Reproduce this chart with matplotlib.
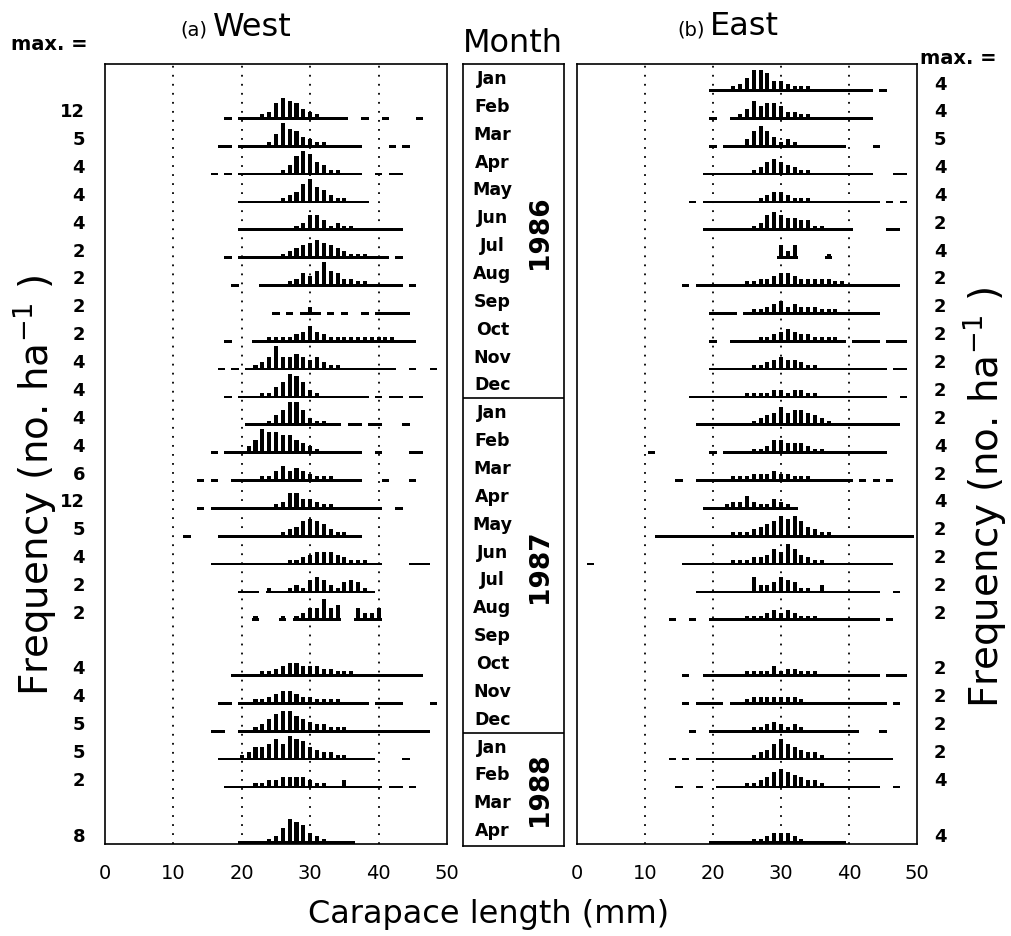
import matplotlib
matplotlib.use("Agg")
import matplotlib.pyplot as plt
from matplotlib.transforms import blended_transform_factory

plt.rcParams["font.family"] = ["DejaVu Sans"]
plt.rcParams["mathtext.default"] = "regular"

W, H = 1011, 937

# ---- data -----------------------------------------------------------------
months = ["Jan", "Feb", "Mar", "Apr", "May", "Jun", "Jul", "Aug", "Sep", "Oct", "Nov", "Dec",
          "Jan", "Feb", "Mar", "Apr", "May", "Jun", "Jul", "Aug", "Sep", "Oct", "Nov", "Dec",
          "Jan", "Feb", "Mar", "Apr"]
years = ["1986", "1987", "1988"]
year_first = [0, 12, 24]
year_last = [11, 23, 27]

# west: row index (0 = Jan 1986), scale max, first size class (mm), frequencies per 1-mm class
west_rows = [1, 2, 3, 4, 5, 6, 7, 8, 9, 10, 11, 12, 13, 14, 15, 16, 17, 18, 19,
             21, 22, 23, 24, 25, 27]
west_max = [12, 5, 4, 4, 4, 2, 2, 2, 2, 4, 4, 4, 4, 6, 12, 5, 4, 2, 2,
            4, 4, 5, 5, 2, 8]
west_start = [18, 17, 16, 20, 20, 18, 19, 25, 18, 17, 18, 21, 16, 14, 14, 12, 16, 20, 22,
              19, 17, 16, 17, 18, 20]
west_freq = [
    [1, 0, 1, 1, 1, 2, 3, 6, 8, 7, 6, 4, 3, 2, 1, 1, 1, 1, 0, 0, 1, 0, 0, 1, 0, 0, 0, 0, 1],
    [1, 1, 0, 1, 1, 1, 1, 2, 5, 9, 7, 6, 4, 3, 2, 2, 1, 1, 1, 1, 1, 0, 0, 0, 0, 1, 0, 1],
    [1, 0, 1, 0, 1, 1, 1, 1, 1, 1, 2, 4, 7, 9, 8, 5, 4, 2, 2, 1, 1, 1, 0, 0, 1, 0, 1, 1],
    [1, 1, 1, 1, 1, 1, 2, 3, 4, 7, 9, 6, 5, 3, 2, 2, 1, 1, 1],
    [1, 1, 1, 1, 1, 1, 1, 1, 2, 3, 6, 6, 4, 2, 3, 2, 2, 1, 1, 1, 1, 1, 1, 1],
    [1, 0, 1, 1, 1, 1, 1, 1, 2, 3, 4, 5, 6, 7, 6, 5, 4, 3, 2, 2, 2, 1, 1, 1, 0, 1],
    [1, 0, 0, 0, 1, 1, 1, 1, 2, 3, 5, 4, 6, 9, 6, 5, 3, 3, 2, 2, 1, 1, 1, 1, 1, 0, 1],
    [1, 0, 1, 0, 1, 3, 1, 0, 1, 0, 1, 0, 0, 1, 0, 1, 1, 1, 1, 1],
    [1, 0, 0, 0, 1, 1, 2, 2, 2, 2, 3, 4, 6, 4, 3, 2, 2, 2, 2, 2, 2, 2, 2, 2, 2, 1, 1, 1],
    [1, 0, 1, 0, 1, 2, 3, 5, 9, 5, 5, 6, 5, 4, 5, 3, 2, 2, 1, 1, 1, 1, 1, 1, 1, 1, 0, 0, 1, 0, 0, 1],
    [1, 0, 1, 1, 1, 2, 2, 4, 6, 9, 8, 6, 3, 2, 1, 1, 1, 1, 1, 1, 1, 0, 1, 0, 1, 1, 0, 1, 1],
    [1, 1, 1, 2, 4, 6, 9, 9, 6, 3, 2, 2, 1, 1, 0, 1, 1, 0, 1, 1, 0, 0, 0, 1],
    [1, 0, 1, 1, 1, 3, 5, 9, 8, 8, 7, 7, 5, 4, 3, 2, 1, 1, 1, 1, 1, 1, 0, 0, 1, 0, 0, 0, 0, 1, 1],
    [1, 0, 1, 0, 0, 1, 1, 1, 1, 2, 2, 4, 6, 4, 5, 4, 3, 2, 2, 2, 1, 1, 1, 1, 0, 0, 0, 1, 0, 0, 0, 1],
    [1, 0, 1, 1, 1, 1, 1, 1, 1, 1, 1, 2, 3, 6, 6, 4, 4, 3, 2, 2, 1, 1, 1, 1, 1, 1, 1, 0, 0, 1],
    [1, 0, 0, 0, 0, 1, 1, 1, 1, 1, 1, 1, 1, 1, 2, 3, 4, 6, 7, 6, 5, 3, 2, 2, 1, 1],
    [1, 1, 1, 1, 1, 1, 1, 1, 1, 1, 1, 2, 2, 3, 4, 5, 5, 5, 4, 3, 2, 2, 2, 1, 1, 0, 0, 0, 0, 1, 1, 1],
    [1, 1, 1, 0, 2, 1, 1, 2, 3, 2, 5, 6, 5, 3, 2, 4, 5, 4, 2, 1],
    [2, 0, 0, 0, 2, 0, 2, 3, 5, 5, 8, 5, 6, 0, 0, 5, 3, 3, 5],
    [1, 1, 1, 1, 2, 2, 3, 4, 5, 5, 4, 4, 4, 3, 3, 2, 2, 2, 1, 1, 1, 1, 1, 1, 1, 1, 1, 1],
    [1, 1, 0, 1, 1, 2, 2, 3, 4, 5, 5, 4, 3, 3, 2, 2, 2, 2, 1, 1, 1, 1, 0, 1, 1, 1, 1, 0, 0, 0, 0, 1],
    [1, 1, 0, 0, 1, 1, 2, 3, 5, 7, 8, 8, 6, 5, 4, 3, 3, 2, 2, 2, 1, 1, 1, 1, 1, 1, 1, 1, 1, 1, 1, 1],
    [1, 1, 1, 2, 3, 5, 5, 6, 8, 6, 9, 8, 7, 5, 4, 3, 3, 2, 2, 1, 1, 1, 1, 0, 0, 0, 0, 1],
    [1, 1, 1, 1, 2, 2, 3, 3, 4, 4, 4, 4, 3, 2, 2, 1, 1, 3, 1, 1, 1, 1, 1, 0, 1, 1, 0, 1],
    [1, 1, 1, 1, 2, 3, 6, 9, 8, 7, 4, 3, 2, 1, 1, 1, 1],
]

east_rows = [0, 1, 2, 3, 4, 5, 6, 7, 8, 9, 10, 11, 12, 13, 14, 15, 16, 17, 18, 19,
             21, 22, 23, 24, 25, 27]
east_max = [4, 4, 5, 4, 4, 2, 4, 2, 2, 2, 2, 2, 2, 4, 2, 4, 2, 2, 2, 2,
            2, 2, 2, 2, 4, 4]
east_start = [20, 20, 20, 19, 17, 19, 30, 16, 20, 20, 20, 17, 18, 11, 15, 19, 12, 2, 18, 14,
              16, 16, 17, 14, 15, 20]
east_freq = [
    [1, 1, 1, 2, 3, 5, 8, 8, 7, 4, 4, 3, 2, 2, 2, 1, 1, 1, 1, 1, 1, 1, 1, 1, 0, 1],
    [1, 0, 0, 1, 2, 4, 7, 5, 6, 6, 5, 3, 3, 2, 2, 1, 1, 1, 1, 1, 1, 1, 1, 1],
    [1, 0, 1, 1, 1, 3, 6, 8, 6, 4, 2, 3, 2, 1, 1, 1, 1, 1, 1, 1, 0, 0, 0, 0, 1],
    [1, 1, 1, 1, 1, 1, 1, 2, 3, 5, 6, 5, 4, 3, 2, 2, 1, 1, 1, 1, 1, 1, 1, 1, 1, 0, 0, 0, 1, 1],
    [1, 0, 1, 1, 1, 1, 1, 1, 1, 1, 2, 3, 4, 4, 3, 2, 2, 2, 1, 1, 1, 1, 1, 1, 1, 1, 1, 1, 0, 1, 0, 1],
    [1, 1, 1, 1, 1, 1, 1, 2, 3, 6, 7, 6, 5, 5, 4, 4, 2, 2, 1, 1, 1, 1, 0, 0, 0, 0, 0, 1, 1],
    [5, 3, 5, 0, 0, 0, 0, 2],
    [1, 0, 1, 1, 1, 1, 1, 1, 1, 2, 2, 3, 3, 4, 5, 5, 4, 3, 3, 3, 3, 3, 2, 2, 1, 1, 1, 1, 1, 1, 1, 1],
    [1, 1, 1, 1, 0, 1, 2, 2, 3, 4, 5, 3, 4, 3, 3, 3, 2, 2, 2, 1, 1, 1, 1, 1, 1],
    [1, 0, 0, 1, 1, 1, 1, 2, 2, 3, 4, 5, 4, 3, 3, 2, 2, 2, 2, 1, 0, 1, 1, 1, 1, 0, 1, 1, 1],
    [1, 1, 1, 1, 1, 1, 2, 2, 3, 4, 5, 4, 4, 3, 2, 2, 1, 1, 1, 1, 1, 1, 1, 1, 1, 1, 0, 1, 1],
    [1, 1, 1, 1, 1, 1, 1, 1, 2, 2, 2, 2, 3, 3, 2, 3, 3, 2, 2, 1, 1, 1, 1, 1, 1, 1, 1, 1, 1, 0, 0, 1],
    [1, 1, 1, 1, 1, 1, 1, 1, 2, 3, 4, 5, 7, 5, 6, 6, 5, 4, 3, 2, 1, 1, 1, 1, 1, 1, 1, 1, 1, 1],
    [1, 0, 0, 0, 0, 0, 0, 0, 0, 1, 0, 1, 1, 1, 1, 2, 2, 3, 5, 5, 4, 4, 4, 3, 2, 2, 1, 1, 1, 1, 1, 1, 1, 1, 1],
    [1, 0, 0, 1, 1, 1, 1, 1, 2, 2, 2, 3, 3, 3, 4, 3, 3, 2, 2, 2, 1, 1, 1, 1, 1, 1, 0, 1, 0, 1, 0, 1],
    [1, 1, 1, 2, 3, 3, 5, 3, 2, 2, 4, 3, 2, 1],
    [1, 1, 1, 1, 1, 1, 1, 1, 1, 1, 1, 2, 2, 2, 3, 4, 5, 6, 8, 7, 8, 6, 4, 3, 2, 2,
     1, 1, 1, 1, 1, 1, 1, 1, 1, 1, 1, 1],
    [1, 0, 0, 0, 0, 0, 0, 0, 0, 0, 0, 0, 0, 0, 1, 1, 1, 1, 1, 1, 1, 2, 2, 2, 3, 3, 4, 6, 5, 8,
     6, 4, 3, 2, 2, 1, 1, 1, 1, 1, 1, 1, 1, 1, 1],
    [1, 1, 1, 1, 1, 1, 1, 1, 6, 3, 3, 4, 6, 5, 4, 2, 2, 1, 3, 1, 1, 1, 1, 1, 1, 1, 1, 0, 0, 1],
    [1, 0, 0, 1, 0, 0, 1, 1, 1, 1, 1, 2, 2, 2, 3, 4, 3, 4, 3, 2, 2, 2, 1, 1, 1, 1, 1, 1, 1, 1, 1, 0, 1],
    [1, 0, 0, 1, 1, 1, 1, 1, 1, 2, 2, 2, 2, 4, 2, 3, 3, 2, 2, 2, 1, 1, 1, 1, 1, 1, 1, 1, 1, 0, 1, 1, 1],
    [1, 0, 1, 1, 1, 1, 0, 1, 1, 2, 3, 3, 3, 3, 3, 3, 3, 2, 1, 1, 1, 1, 1, 1, 1, 1, 1, 1, 1, 1, 0, 1],
    [1, 0, 0, 1, 1, 1, 1, 1, 1, 2, 2, 3, 4, 3, 2, 3, 2, 1, 1, 1, 1, 1, 1, 1, 1, 0, 0, 0, 1],
    [1, 0, 1, 0, 1, 1, 1, 1, 1, 1, 1, 1, 2, 3, 4, 6, 8, 6, 5, 4, 3, 3, 2, 1, 1, 1, 1, 1, 1, 1, 1, 1, 1],
    [1, 0, 0, 1, 0, 0, 1, 1, 1, 1, 2, 2, 3, 4, 6, 7, 6, 5, 4, 3, 3, 2, 1, 1, 1, 1, 1, 1, 1, 1, 0, 0, 1],
    [1, 1, 1, 1, 1, 1, 2, 2, 3, 4, 4, 4, 3, 2, 1, 1, 1, 1, 1, 1],
]

xticks = [0, 10, 20, 30, 40, 50]
grid_mm = [10, 20, 30, 40]

# ---- layout ---------------------------------------------------------------
NROW = 28
UNIT = 0.88 / 9         # row height per frequency step


def fx(x):
    return x / W


def fy(y):
    return 1 - y / H


def draw_panel(ax, rows, starts, freqs):
    for r, s, f in zip(rows, starts, freqs):
        y0 = NROW - 1 - r
        xs = [s + k for k, v in enumerate(f) if v > 0]
        hs = [v * UNIT for v in f if v > 0]
        # thin base for every occupied class, narrow bar on top
        ax.bar(xs, [UNIT] * len(xs), width=1.06, bottom=y0, color="k", lw=0)
        ax.bar(xs, hs, width=0.6, bottom=y0, color="k", lw=0)
    for v in grid_mm:
        ax.axvline(v, color="k", lw=1.3, ls=(0, (1, 4)), zorder=0)
    ax.set_xlim(0, 50)
    ax.set_ylim(0, NROW)
    ax.set_xticks(xticks)
    ax.set_yticks([])
    ax.tick_params(axis="x", length=0, pad=14, labelsize=14)
    for sp in ax.spines.values():
        sp.set_linewidth(1.2)


fig = plt.figure(figsize=(W / 100, H / 100), dpi=100)
top, bot = 65, 845
ax_w = fig.add_axes([fx(105), fy(bot), (447 - 105) / W, (bot - top) / H])
ax_m = fig.add_axes([fx(463), fy(bot + 2), (564 - 463) / W, (bot + 2 - top) / H])
ax_e = fig.add_axes([fx(577), fy(bot), (917 - 577) / W, (bot - top) / H])

draw_panel(ax_w, west_rows, west_start, west_freq)
draw_panel(ax_e, east_rows, east_start, east_freq)

tw = blended_transform_factory(ax_w.transAxes, ax_w.transData)
for r, m in zip(west_rows, west_max):
    ax_w.text(-0.058, NROW - 1 - r + 0.3, str(m), transform=tw, ha="right", va="center",
              fontsize=13, fontweight="bold", clip_on=False)
te = blended_transform_factory(ax_e.transAxes, ax_e.transData)
for r, m in zip(east_rows, east_max):
    ax_e.text(1.068, NROW - 1 - r + 0.3, str(m), transform=te, ha="center", va="center",
              fontsize=13, fontweight="bold", clip_on=False)

# month column
ax_m.set_xlim(0, 1)
ax_m.set_ylim(-2 / 27.86, NROW)
ax_m.set_xticks([])
ax_m.set_yticks([])
for sp in ax_m.spines.values():
    sp.set_linewidth(1.2)
for i, m in enumerate(months):
    ax_m.text(0.29, NROW - 0.5 - i, m, ha="center", va="center", fontsize=12.5, fontweight="bold")
for y, a, b in zip(years, year_first, year_last):
    ax_m.text(0.76, NROW - (a + b + 1) / 2, y, rotation=90, ha="center", va="center",
              fontsize=19, fontweight="bold")
for b in year_last[:-1]:
    ax_m.axhline(NROW - 1 - b, color="k", lw=1.2)

# titles and labels
fig.text(fx(207), fy(36), "(a)", ha="right", va="baseline", fontsize=14)
fig.text(fx(213), fy(36), "West", ha="left", va="baseline", fontsize=23)
fig.text(fx(705), fy(35), "(b)", ha="right", va="baseline", fontsize=14)
fig.text(fx(710), fy(35), "East", ha="left", va="baseline", fontsize=23)
fig.text(fx(513), fy(52), "Month", ha="center", va="baseline", fontsize=23)
fig.text(fx(88), fy(45), "max. =", ha="right", va="center", fontsize=14, fontweight="bold")
fig.text(fx(920), fy(58), "max. =", ha="left", va="center", fontsize=14, fontweight="bold")
fig.text(fx(489), fy(915), "Carapace length (mm)", ha="center", va="center", fontsize=23)
ylab = "Frequency (no. ha$^{-1}$ )"
fig.text(fx(35), fy(485), ylab, rotation=90, ha="center", va="center", fontsize=28)
fig.text(fx(985), fy(497), ylab, rotation=90, ha="center", va="center", fontsize=28)

fig.savefig("out.png", dpi=100)
